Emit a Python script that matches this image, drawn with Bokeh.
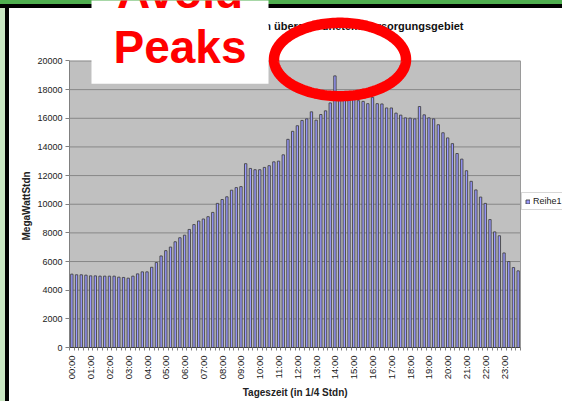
import math
import numpy as np
from bokeh.plotting import figure
from bokeh.models import (ColumnDataSource, FixedTicker, Label, BoxAnnotation,
                          PolyAnnotation, Legend, LegendItem, InlineStyleSheet)
from bokeh.embed import file_html
from bokeh.resources import INLINE

# ---------------- data ----------------
series_name = "Reihe1"
quarter_index = list(range(96))
load_mwh = [
    5120, 5075, 5075, 5050, 5000, 5000, 4980, 4980, 4980, 4980, 4910, 4890, 4840, 4980, 5140, 5280,
    5280, 5600, 5930, 6390, 6760, 7010, 7380, 7660, 7840, 8240, 8580, 8830, 8970, 9130, 9430, 10060,
    10330, 10520, 10980, 11160, 11230, 12830, 12500, 12410, 12410, 12570, 12690, 12960, 13010, 13450, 14530, 15090,
    15480, 15850, 15960, 16450, 15870, 16260, 16520, 17070, 18960, 17300, 17400, 17500, 17400, 17230, 17180, 17020,
    17460, 17020, 17000, 16720, 16720, 16360, 16220, 16030, 16010, 15960, 16820, 16240, 16030, 15960, 15550, 14990,
    14630, 14230, 13540, 13150, 12340, 11600, 11000, 10500, 10060, 8930, 8070, 7800, 6600, 6000, 5580, 5350,
]
hour_labels = ["00:00", "01:00", "02:00", "03:00", "04:00", "05:00", "06:00", "07:00",
               "08:00", "09:00", "10:00", "11:00", "12:00", "13:00", "14:00", "15:00",
               "16:00", "17:00", "18:00", "19:00", "20:00", "21:00", "22:00", "23:00"]
y_ticks = [0, 2000, 4000, 6000, 8000, 10000, 12000, 14000, 16000, 18000, 20000]
y_max = 20000
title_text = "Lastgang in übergeordnetem Versorgungsgebiet"
x_title = "Tageszeit (in 1/4 Stdn)"
y_title = "MegaWattStdn"
overlay_lines = ["Avoid", "Peaks"]

FONT = "Liberation Sans"
NBSP = "\u00a0"
W, H = 562, 401

# pixel helpers for the decorations (grey plot area: x 69..520, y 0..350 -> 20000 at y 61)
def dx(X):
    return -0.5 + (X - 69.0) * 96.0 / 451.0


def dy(Y):
    return (350.0 - Y) * y_max / 289.0


x_lo, x_hi = -0.5, 95.5

# ---------------- figure ----------------
# The frame reaches the top and right edges of the canvas so that the overlays and the
# legend are not clipped; the grey plot area itself is the 0..20000 / 96-bar band.
p = figure(width=W, height=H, output_backend="svg", toolbar_location=None,
           x_range=(x_lo, dx(W)), y_range=(0, dy(0)),
           min_border_left=69, min_border_right=0, min_border_top=0, min_border_bottom=H - 350)
p.background_fill_alpha = 0
p.border_fill_alpha = 0
p.outline_line_color = None
p.stylesheets = [InlineStyleSheet(css=""":host {
  background:
    linear-gradient(to bottom, #4fae4f 0px, #4fae4f 4px, #000000 4px, #000000 8px, rgba(0,0,0,0) 8px),
    linear-gradient(to right, #c9e6c2 0px, #c9e6c2 5px, #000000 5px, #000000 9px, #ffffff 9px);
}""")]

p.quad(left=[x_lo], right=[x_hi], bottom=[0], top=[y_max],
       fill_color="#C0C0C0", line_color=None, level="image")
grid_vals = y_ticks[1:]
p.segment(x0=[x_lo] * len(grid_vals), x1=[x_hi] * len(grid_vals), y0=grid_vals, y1=grid_vals,
          line_color="#878787", line_width=1)
p.segment(x0=[x_hi], x1=[x_hi], y0=[0], y1=[y_max], line_color="#9a9a9a", line_width=1)

src = ColumnDataSource(dict(x=quarter_index, y=load_mwh))
bars = p.vbar(x="x", top="y", width=0.5, bottom=0, source=src,
              fill_color="#9999FF", line_color="#444444", line_width=0.9)

# axes
xa = p.xaxis[0]
xa.bounds = (x_lo, x_hi)
xa.ticker = FixedTicker(ticks=quarter_index[::4],
                        minor_ticks=[i - 0.5 for i in quarter_index] + [x_hi])
xa.major_label_overrides = {quarter_index[::4][k]: hour_labels[k] for k in range(24)}
xa.major_label_orientation = math.pi / 2
xa.major_tick_line_color = None
xa.major_tick_out = 3
xa.major_tick_in = 0
xa.minor_tick_out = 3
xa.minor_tick_in = 0
xa.minor_tick_line_color = "#808080"
xa.axis_line_color = "#404040"
xa.major_label_standoff = 5
xa.major_label_text_font = FONT
xa.major_label_text_font_size = "9.5px"
xa.major_label_text_color = "#222222"
xa.axis_label = x_title + NBSP * 15
xa.axis_label_text_font = FONT
xa.axis_label_text_font_size = "10px"
xa.axis_label_text_font_style = "bold"
xa.axis_label_text_color = "#222222"
xa.axis_label_standoff = 5

ya = p.yaxis[0]
ya.bounds = (0, y_max)
ya.ticker = FixedTicker(ticks=y_ticks)
ya.minor_tick_line_color = None
ya.major_tick_out = 4
ya.major_tick_in = 0
ya.major_tick_line_color = "#808080"
ya.axis_line_color = "#808080"
ya.major_label_standoff = 3
ya.major_label_text_font = FONT
ya.major_label_text_font_size = "9px"
ya.major_label_text_color = "#222222"
ya.axis_label = y_title + NBSP * 23
ya.axis_label_text_font = FONT
ya.axis_label_text_font_size = "10px"
ya.axis_label_text_font_style = "bold"
ya.axis_label_text_color = "#222222"
ya.axis_label_standoff = 2

p.xgrid.visible = False
p.ygrid.visible = False

# legend to the right of the grey plot area
leg = Legend(items=[LegendItem(label=series_name, renderers=[bars])],
             location=(452, 137), orientation="vertical",
             label_text_font=FONT, label_text_font_size="9px", label_text_color="#222222",
             glyph_width=5, glyph_height=5, label_height=9, label_standoff=3,
             padding=3, margin=0, spacing=0,
             border_line_color="#B0B0B0", background_fill_color="white", background_fill_alpha=1)
p.add_layout(leg)

# chart title (partly hidden by the white box); labels are placed by their middle
TITLE_PX = 11
p.add_layout(Label(x=dx(463), y=dy(29.5 - 0.3465 * TITLE_PX), text=title_text, text_align="right",
                   text_baseline="middle", text_font=FONT, text_font_size=f"{TITLE_PX}px",
                   text_font_style="bold", text_color="#111111"))

# white box with the "Avoid Peaks" note
p.add_layout(BoxAnnotation(left=dx(91), right=dx(268), top=dy(-5), bottom=dy(84),
                           fill_color="white", fill_alpha=1, line_color=None))
NOTE_PX = 46
for txt, base in zip(overlay_lines, [7, 63]):
    p.add_layout(Label(x=dx(179.5), y=dy(base - 0.3465 * NOTE_PX), text=txt, text_align="center",
                       text_baseline="middle", text_font=FONT, text_font_size=f"{NOTE_PX}px",
                       text_font_style="bold", text_color="#FF0000"))

# red ellipse around the peak
t = np.linspace(0, 2 * np.pi, 181)
ex = [dx(339.5 + 66.0 * math.cos(a)) for a in t]
ey = [dy(59.5 + 37.0 * math.sin(a)) for a in t]
p.add_layout(PolyAnnotation(xs=ex, ys=ey, fill_color=None, fill_alpha=0,
                            line_color="#FF0000", line_alpha=1, line_width=10.5))

open("out.html", "w").write(file_html(p, INLINE))
